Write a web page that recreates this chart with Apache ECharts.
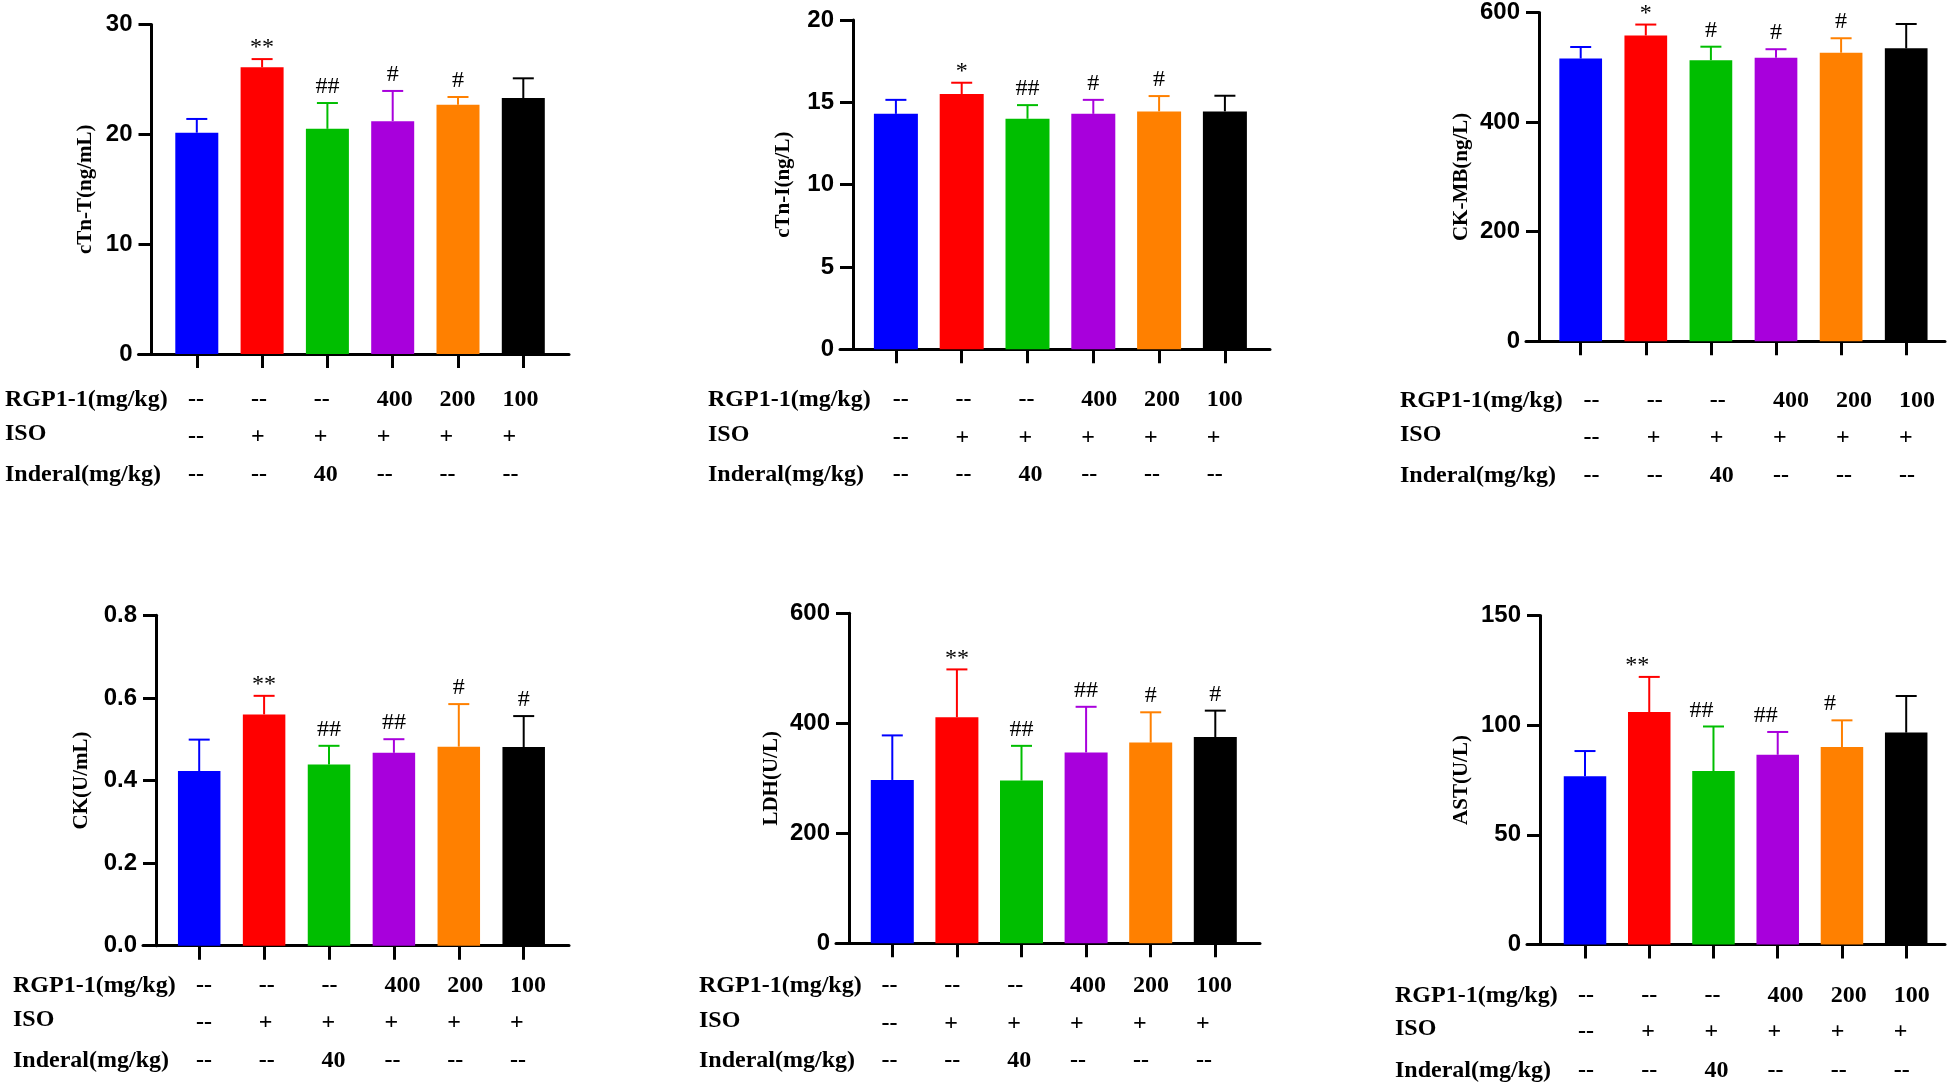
<!DOCTYPE html>
<html><head><meta charset="utf-8">
<script src="https://cdn.jsdelivr.net/npm/echarts@6/dist/echarts.min.js"></script>
<style>html,body{margin:0;padding:0;background:#fff}#c{width:1948px;height:1084px}</style>
</head><body><div id="c"></div>
<script>
// ---- data ----
const groups = ['Control', 'ISO', 'ISO+Inderal 40', 'ISO+RGP1-1 400', 'ISO+RGP1-1 200', 'ISO+RGP1-1 100'];
const barColors = ['#0000FF', '#FF0000', '#00BE00', '#A800DC', '#FF8000', '#000000'];

const cTnT_mean = [20.15, 26.1, 20.5, 21.2, 22.7, 23.3];
const cTnT_sd   = [1.25, 0.75, 2.35, 2.75, 0.7, 1.8];
const cTnT_sig  = ['', '**', '##', '#', '#', ''];

const cTnI_mean = [14.3, 15.5, 14.0, 14.3, 14.45, 14.45];
const cTnI_sd   = [0.85, 0.69, 0.83, 0.85, 0.93, 0.95];
const cTnI_sig  = ['', '*', '##', '#', '#', ''];

const CKMB_mean = [516, 558, 513, 517.5, 526.6, 534.6];
const CKMB_sd   = [21, 20, 24.6, 15.5, 26.4, 44.4];
const CKMB_sig  = ['', '*', '#', '#', '#', ''];

const CK_mean = [0.423, 0.560, 0.439, 0.467, 0.482, 0.481];
const CK_sd   = [0.076, 0.045, 0.045, 0.033, 0.103, 0.075];
const CK_sig  = ['', '**', '##', '##', '#', '#'];

const LDH_mean = [297, 411, 296, 347, 365, 375];
const LDH_sd   = [81, 87, 63, 83, 55, 48];
const LDH_sig  = ['', '**', '##', '##', '#', '#'];

const AST_mean = [76.7, 106, 79.1, 86.5, 90, 96.6];
const AST_sd   = [11.5, 16, 20.3, 10.4, 12.2, 16.7];
const AST_sig  = ['', '**', '##', '##', '#', ''];

const rowLabels  = ['RGP1-1(mg/kg)', 'ISO', 'Inderal(mg/kg)'];
const rgpRow     = ['--', '--', '--', '400', '200', '100'];
const isoRow     = ['--', '+', '+', '+', '+', '+'];
const inderalRow = ['--', '--', '40', '--', '--', '--'];
const tableRows  = [rgpRow, isoRow, inderalRow];

// ---- layout ----
const SERIF = "'Liberation Serif','Times New Roman',serif";
const SANS = "'Liberation Sans',Arial,sans-serif";
const panels = [
  {name:'cTn-T(ng/mL)', mean:cTnT_mean, sd:cTnT_sd, sig:cTnT_sig, max:30, step:10, dec:0,
   axisX:151.5, top:24.5, zero:354, xEnd:569, c0:196.8, band:65.3, barW:43, nameGap:55,
   L0:188, tStep:62.9, labelX:5, rows:[408,445,483], annDx:0},
  {name:'cTn-I(ng/L)', mean:cTnI_mean, sd:cTnI_sd, sig:cTnI_sig, max:20, step:5, dec:0,
   axisX:853, top:20, zero:349.3, xEnd:1270, c0:895.9, band:65.8, barW:44, nameGap:59,
   L0:892.8, tStep:62.8, labelX:708, rows:[408,446,483], annDx:0},
  {name:'CK-MB(ng/L)', mean:CKMB_mean, sd:CKMB_sd, sig:CKMB_sig, max:600, step:200, dec:0,
   axisX:1539, top:12.5, zero:341.3, xEnd:1945, c0:1580.7, band:65.1, barW:42.7, nameGap:67,
   L0:1583.6, tStep:63.1, labelX:1400, rows:[409,446,484], annDx:0},
  {name:'CK(U/mL)', mean:CK_mean, sd:CK_sd, sig:CK_sig, max:0.8, step:0.2, dec:1,
   axisX:156, top:615.3, zero:945.7, xEnd:569, c0:199.2, band:64.9, barW:42.5, nameGap:64,
   L0:196, tStep:62.8, labelX:13, rows:[994,1031,1069], annDx:0},
  {name:'LDH(U/L)', mean:LDH_mean, sd:LDH_sd, sig:LDH_sig, max:600, step:200, dec:0,
   axisX:849, top:613.3, zero:943.3, xEnd:1260, c0:892.3, band:64.6, barW:43, nameGap:67,
   L0:881.4, tStep:62.9, labelX:699, rows:[994,1032,1069], annDx:0},
  {name:'AST(U/L)', mean:AST_mean, sd:AST_sd, sig:AST_sig, max:150, step:50, dec:0,
   axisX:1540, top:615.5, zero:944.5, xEnd:1945, c0:1585, band:64.24, barW:42.5, nameGap:68,
   L0:1578.1, tStep:63.15, labelX:1395, rows:[1004,1040,1079], annDx:-12}
];

const TICK = 13;
const grids = [], xAxes = [], yAxes = [], series = [], graphics = [];
panels.forEach((p, k) => {
  const left = p.axisX - TICK;
  grids.push({left: left, top: p.top, width: p.xEnd - left, height: p.zero - p.top});
  xAxes.push({
    gridIndex: k, type: 'value',
    min: (left - p.c0) / p.band, max: (p.xEnd - p.c0) / p.band,
    axisLine: {show: true, onZero: true, lineStyle: {color: '#000', width: 3}},
    axisTick: {show: true, customValues: groups.map((g, i) => i), length: 14, lineStyle: {color: '#000', width: 3}},
    axisLabel: {show: false}, splitLine: {show: false}
  });
  yAxes.push({
    gridIndex: k, type: 'value', min: 0, max: p.max, interval: p.step, offset: -TICK,
    axisLine: {show: true, onZero: false, lineStyle: {color: '#000', width: 3}},
    axisTick: {show: true, length: TICK, lineStyle: {color: '#000', width: 3}},
    axisLabel: {color: '#000', fontFamily: SANS, fontWeight: 'bold', fontSize: 24, margin: 19,
      formatter: v => v.toFixed(p.dec)},
    splitLine: {show: false},
    name: p.name, nameLocation: 'middle', nameGap: p.nameGap,
    nameTextStyle: {color: '#000', fontFamily: SERIF, fontWeight: 'bold', fontSize: 21}
  });
  series.push({
    type: 'bar', xAxisIndex: k, yAxisIndex: k, barWidth: p.barW, silent: true,
    data: p.mean.map((v, i) => ({value: [i, v], itemStyle: {color: barColors[i]}}))
  });
  series.push({
    type: 'custom', xAxisIndex: k, yAxisIndex: k, clip: false, silent: true,
    data: p.mean.map((v, i) => [i, v, v + p.sd[i]]),
    renderItem: (params, api) => {
      const i = api.value(0);
      const b = api.coord([i, api.value(1)]);
      const c = api.coord([i, api.value(2)]);
      const col = barColors[i];
      const ch = [
        {type: 'line', shape: {x1: b[0], y1: b[1], x2: c[0], y2: c[1]}, style: {stroke: col, lineWidth: 2}},
        {type: 'line', shape: {x1: c[0] - 10.5, y1: c[1], x2: c[0] + 10.5, y2: c[1]}, style: {stroke: col, lineWidth: 2}}
      ];
      const s = p.sig[i];
      if (s) {
        const fs = 24, gap = s[0] === '*' ? 3 : 8;
        ch.push({type: 'text', x: c[0] + p.annDx, y: c[1] - gap - 0.34 * fs,
          style: {text: s, fill: '#000', font: fs + 'px ' + SERIF, align: 'center', verticalAlign: 'middle'}});
      }
      return {type: 'group', children: ch};
    }
  });
  // condition table
  const fs = 24;
  tableRows.forEach((row, r) => {
    const base = p.rows[r];
    graphics.push({type: 'text', x: p.labelX, y: base - 0.34 * fs - (r === 1 ? 3 : 0), silent: true,
      style: {text: rowLabels[r], fill: '#000', font: 'bold ' + fs + 'px ' + SERIF, align: 'left', verticalAlign: 'middle'}});
    row.forEach((t, j) => {
      graphics.push({type: 'text', x: p.L0 + j * p.tStep, y: base - 0.34 * fs, silent: true,
        style: {text: t, fill: '#000', font: 'bold ' + fs + 'px ' + SERIF, align: 'left', verticalAlign: 'middle'}});
    });
  });
});

const chart = echarts.init(document.getElementById('c'));
chart.setOption({
  animation: false,
  backgroundColor: '#fff',
  grid: grids, xAxis: xAxes, yAxis: yAxes, series: series, graphic: graphics
});
</script>
</body></html>
